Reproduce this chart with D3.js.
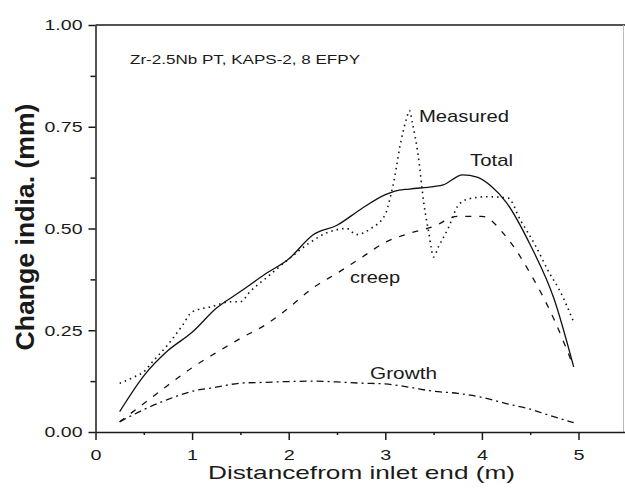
<!DOCTYPE html>
<html lang="en">
<head>
<meta charset="UTF-8">
<title>Change in diameter along tube</title>
<script src="https://d3js.org/d3.v7.min.js"></script>
<style>
    body { margin: 0; background: #fff; }
    svg text { font-family: Arial, "Liberation Sans", sans-serif; fill: #1a1a1a; }
    .axis path, .axis line { stroke: #1a1a1a; stroke-width: 1.5px; }
</style>
</head>
<body>
<div id="chart"></div>
<script>
    // values
    const xTicks = [0, 1, 2, 3, 4, 5];
    const xMinor = [0.5, 1.5, 2.5, 3.5, 4.5];
    const yTicks = [0, 0.25, 0.5, 0.75, 1.0];
    const yMinor = [0.125, 0.375, 0.625, 0.875];

    const xTotal = [0.25, 0.5, 0.75, 1.0, 1.25, 1.5, 1.75, 2.0, 2.25, 2.5, 2.75, 3.0, 3.1, 3.25, 3.5, 3.6, 3.8, 3.95, 4.1, 4.25, 4.5, 4.75, 4.95];
    const total  = [0.05, 0.138, 0.20, 0.245, 0.304, 0.345, 0.387, 0.425, 0.484, 0.508, 0.548, 0.583, 0.592, 0.597, 0.603, 0.607, 0.632, 0.626, 0.603, 0.565, 0.46, 0.325, 0.16];

    const xMeasured = [0.25, 0.4, 0.5, 0.6, 0.75, 0.9, 1.0, 1.2, 1.4, 1.5, 1.6, 1.8, 2.0, 2.2, 2.4, 2.6, 2.7, 2.85, 3.0, 3.05, 3.1, 3.15, 3.22, 3.25, 3.28, 3.34, 3.4, 3.45, 3.5, 3.55, 3.65, 3.75, 3.85, 4.05, 4.27, 4.4, 4.55, 4.7, 4.8, 4.95];
    const measured  = [0.12, 0.135, 0.148, 0.175, 0.215, 0.262, 0.295, 0.308, 0.32, 0.32, 0.345, 0.385, 0.425, 0.462, 0.49, 0.50, 0.485, 0.50, 0.535, 0.575, 0.63, 0.70, 0.77, 0.79, 0.76, 0.68, 0.56, 0.49, 0.43, 0.455, 0.50, 0.555, 0.572, 0.578, 0.575, 0.52, 0.46, 0.39, 0.35, 0.27];

    const xModel = [0.25, 0.5, 0.75, 1.0, 1.25, 1.5, 1.75, 2.0, 2.25, 2.5, 2.75, 3.0, 3.25, 3.5, 3.75, 4.0, 4.25, 4.5, 4.75, 4.95];
    const creep  = [0.025, 0.07, 0.115, 0.158, 0.195, 0.23, 0.262, 0.305, 0.354, 0.39, 0.428, 0.466, 0.488, 0.505, 0.53, 0.53, 0.48, 0.39, 0.275, 0.16];
    const growth = [0.025, 0.055, 0.08, 0.10, 0.11, 0.12, 0.122, 0.124, 0.125, 0.123, 0.12, 0.118, 0.11, 0.10, 0.095, 0.085, 0.07, 0.056, 0.037, 0.023];

    const width = 625, height = 489;
    const svg = d3.select("#chart").append("svg")
        .attr("width", width)
        .attr("height", height);

    const x = d3.scaleLinear().domain([0, 5.5]).range([95.5, 626.8]);
    const y = d3.scaleLinear().domain([0, 1]).range([432, 25]);

    // frame
    svg.append("line")
        .attr("x1", x(0)).attr("x2", width)
        .attr("y1", y(1)).attr("y2", y(1))
        .attr("stroke", "#1a1a1a").attr("stroke-width", 1.5);
    svg.append("line")
        .attr("x1", width - 1.5).attr("x2", width - 1.5)
        .attr("y1", y(1)).attr("y2", y(0))
        .attr("stroke", "#bbb").attr("stroke-width", 1);

    // axes
    const gx = svg.append("g").attr("class", "axis")
        .attr("transform", `translate(0,${y(0)})`)
        .call(d3.axisBottom(x).tickValues(xTicks).tickSize(8).tickSizeOuter(0).tickFormat(d3.format("d")));
    gx.selectAll("text")
        .attr("y", 17).attr("dy", "0.71em")
        .attr("font-size", 15)
        .attr("textLength", 11).attr("lengthAdjust", "spacingAndGlyphs");
    svg.append("g").attr("class", "axis")
        .attr("transform", `translate(0,${y(0)})`)
        .call(d3.axisBottom(x).tickValues(xMinor).tickSize(3).tickFormat(""))
        .select(".domain").remove();

    const gy = svg.append("g").attr("class", "axis")
        .attr("transform", `translate(${x(0)},0)`)
        .call(d3.axisLeft(y).tickValues(yTicks).tickSize(7).tickSizeOuter(0).tickFormat(d3.format(".2f")));
    gy.selectAll("text")
        .attr("x", -13)
        .attr("font-size", 15)
        .attr("textLength", 38).attr("lengthAdjust", "spacingAndGlyphs");
    svg.append("g").attr("class", "axis")
        .attr("transform", `translate(${x(0)},0)`)
        .call(d3.axisLeft(y).tickValues(yMinor).tickSize(5).tickFormat(""))
        .select(".domain").remove();
    svg.selectAll(".axis text").attr("font-family", null).attr("fill", "#2a2a2a");

    // axis titles
    svg.append("text")
        .attr("x", 208).attr("y", 479)
        .attr("font-size", 19)
        .attr("fill", "#2a2a2a")
        .attr("textLength", 307).attr("lengthAdjust", "spacingAndGlyphs")
        .text("Distancefrom inlet end (m)");
    svg.append("text")
        .attr("transform", "translate(34,227) rotate(-90)")
        .attr("text-anchor", "middle")
        .attr("font-size", 26)
        .attr("font-weight", "bold")
        .attr("textLength", 247).attr("lengthAdjust", "spacingAndGlyphs")
        .text("Change india. (mm)");

    svg.append("text")
        .attr("x", 130).attr("y", 64)
        .attr("font-size", 13)
        .attr("textLength", 230).attr("lengthAdjust", "spacingAndGlyphs")
        .text("Zr-2.5Nb PT, KAPS-2, 8 EFPY");

    // curves
    const series = [
        { xs: xTotal, ys: total, dash: null, w: 1.3 },
        { xs: xMeasured, ys: measured, dash: "1.5,4", w: 1.6 },
        { xs: xModel, ys: creep, dash: "6,8", w: 1.3 },
        { xs: xModel, ys: growth, dash: "7,4,2,4", w: 1.3 }
    ];
    const line = d3.line()
        .x(d => x(d[0]))
        .y(d => y(d[1]))
        .curve(d3.curveMonotoneX);

    series.forEach(s => {
        svg.append("path")
            .datum(s.xs.map((v, i) => [v, s.ys[i]]))
            .attr("d", line)
            .attr("fill", "none")
            .attr("stroke", "#111")
            .attr("stroke-width", s.w)
            .attr("stroke-dasharray", s.dash);
    });

    // curve labels
    const labels = [
        { text: "Measured", px: 419, py: 122, len: 90 },
        { text: "Total", px: 470, py: 166, len: 43 },
        { text: "creep", px: 350, py: 283, len: 50 },
        { text: "Growth", px: 370, py: 379, len: 67 }
    ];
    svg.selectAll(".lbl")
        .data(labels)
        .join("text")
        .attr("class", "lbl")
        .attr("x", d => d.px).attr("y", d => d.py)
        .attr("font-size", 17)
        .attr("textLength", d => d.len).attr("lengthAdjust", "spacingAndGlyphs")
        .text(d => d.text);
</script>
</body>
</html>
